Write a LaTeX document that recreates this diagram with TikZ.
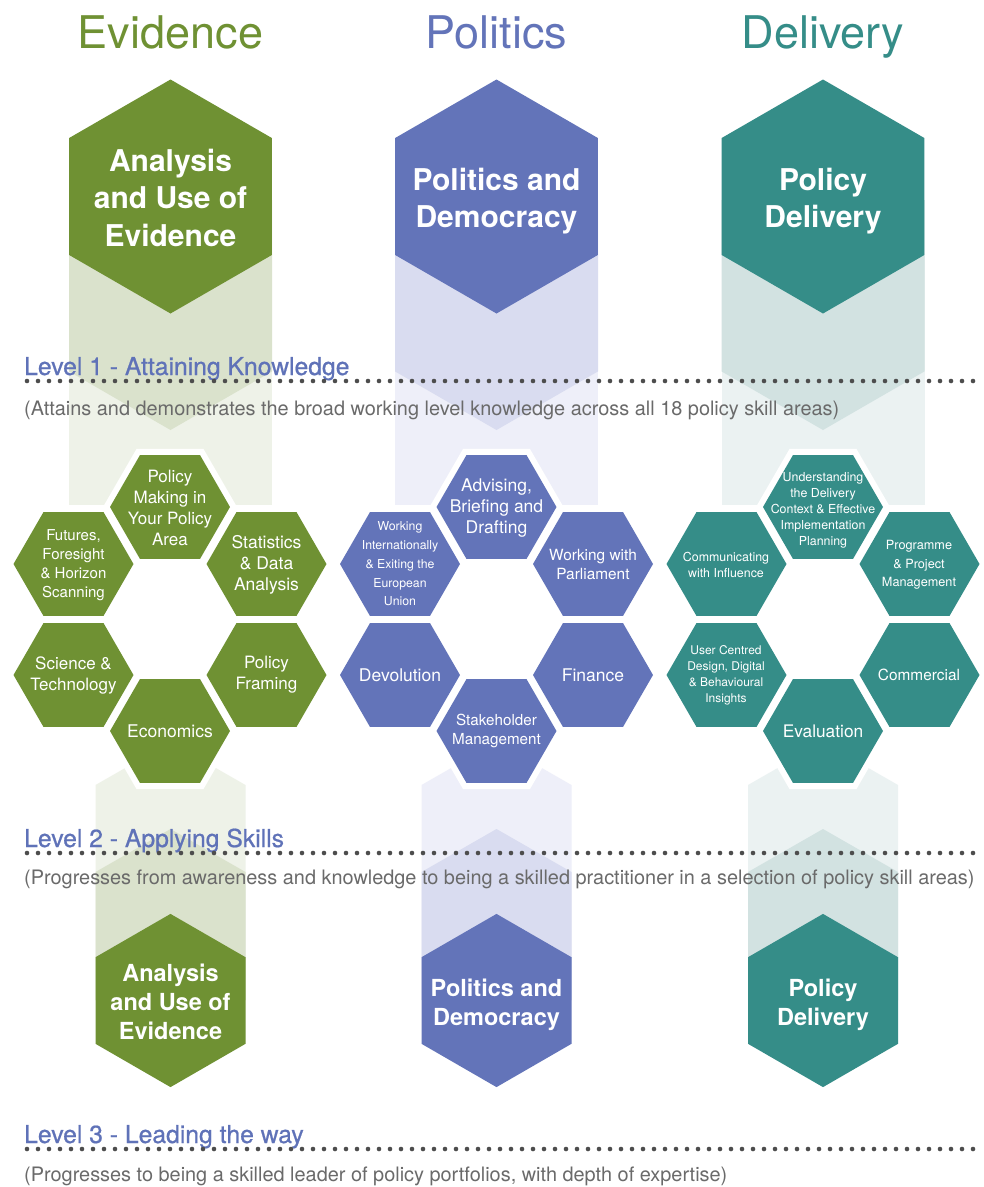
\documentclass[tikz,border=0pt]{standalone}
\usepackage{fontspec}
\setmainfont{TeX Gyre Heros}
\newfontfamily\medheros[FakeBold=0.7]{TeX Gyre Heros}
\definecolor{evG}{HTML}{6F9133}
\definecolor{poB}{HTML}{6374B9}
\definecolor{deT}{HTML}{358D88}
\definecolor{evDk}{HTML}{DAE2CC}
\definecolor{evLt}{HTML}{EEF2E8}
\definecolor{poDk}{HTML}{D9DCF0}
\definecolor{poLt}{HTML}{EEEFF9}
\definecolor{deDk}{HTML}{D2E2E1}
\definecolor{deLt}{HTML}{EBF2F2}
\definecolor{lvlblue}{HTML}{5F72B8}
\definecolor{subgray}{HTML}{6A6A6A}
\definecolor{dotgray}{HTML}{4D4D4D}
\newcommand{\flathexagon}[4]{\fill[#4] (#1,#2) ++(0:#3) -- ++(120:#3) -- ++(180:#3) -- ++(240:#3) -- ++(300:#3) -- ++(0:#3) -- cycle;}
\newcommand{\pointyhexagon}[4]{\fill[#4] (#1,#2) ++(30:#3) -- ++(150:#3) -- ++(210:#3) -- ++(270:#3) -- ++(330:#3) -- ++(30:#3) -- cycle;}
\tikzset{
  title/.style={anchor=base, inner sep=0, font=\fontsize{45}{54}\selectfont},
  biglbl/.style={text=white, align=center, inner sep=0, font=\bfseries\fontsize{30}{37.5}\selectfont},
  smalllbl/.style={text=white, align=center, inner sep=0, font=\bfseries\fontsize{23.5}{29}\selectfont},
  cl/.style={text=white, align=center, inner sep=0},
  lvl/.style={anchor=base west, inner sep=0, text=lvlblue, font=\medheros\fontsize{24.7}{30}\selectfont},
  sub/.style={anchor=base west, inner sep=0, text=subgray, font=\fontsize{19.9}{24}\selectfont},
  dotline/.style={draw=dotgray, line width=4.6pt, line cap=round, dash pattern=on 0pt off 11pt},
}
\begin{document}
\begin{tikzpicture}[x=1pt,y=-1pt]
\useasboundingbox[fill=white] (0,0) rectangle (984,1187);

% pale columns
\foreach \cx/\lt/\dk in {170.5/evLt/evDk, 496.5/poLt/poDk, 823/deLt/deDk} {
  \fill[\lt] (\cx-101.5,256) rectangle (\cx+101.5,505);
  \fill[\dk] (\cx-101.5,200) -- (\cx+101.5,200) -- (\cx+101.5,371.4) -- (\cx,430) -- (\cx-101.5,371.4) -- cycle;
  \fill[\lt] (\cx-75,785) -- (\cx,742) -- (\cx+75,785) -- (\cx+75,1000) -- (\cx-75,1000) -- cycle;
  \fill[\dk] (\cx-75,872) -- (\cx,829) -- (\cx+75,872) -- (\cx+75,1000) -- (\cx-75,1000) -- cycle;
}

% big hexagons
\pointyhexagon{170.5}{196.5}{117}{evG}
\pointyhexagon{496.5}{196.5}{117}{poB}
\pointyhexagon{823}{196.5}{117}{deT}
\pointyhexagon{170.5}{1000.5}{86.6}{evG}
\pointyhexagon{496.5}{1000.5}{86.6}{poB}
\pointyhexagon{823}{1000.5}{86.6}{deT}

% clusters
\foreach \cx/\col in {170/evG, 496.5/poB, 823/deT} {
  \flathexagon{\cx}{507}{67}{white}
  \flathexagon{\cx}{731}{67}{white}
  \flathexagon{\cx}{507}{60}{\col}
  \flathexagon{\cx-96.5}{564}{60}{\col}
  \flathexagon{\cx+96.5}{564}{60}{\col}
  \flathexagon{\cx-96.5}{675}{60}{\col}
  \flathexagon{\cx+96.5}{675}{60}{\col}
  \flathexagon{\cx}{731}{60}{\col}
}

% titles
\node[title, text=evG] (tev) at (170.5,48) {Evidence};
\node[title, text=poB] (tpo) at (496.5,48) {Politics};
\node[title, text=deT] (tde) at (823,48) {Delivery};

% big labels
\node[biglbl] (bev) at (170.5,197.5) {Analysis\\and Use of\\Evidence};
\node[biglbl] (bpo) at (496.5,201) {Politics and\\Democracy};
\node[biglbl] (bde) at (823,201) {Policy\\Delivery};
\node[smalllbl] (sev) at (170.5,1002) {Analysis\\and Use of\\Evidence};
\node[smalllbl] (spo) at (496.5,1005) {Politics and\\Democracy};
\node[smalllbl] (sde) at (823,1005) {Policy\\Delivery};

% evidence cluster labels
\node[cl, font=\fontsize{17}{21}\selectfont] (e1) at (170,508) {Policy\\Making in\\Your Policy\\Area};
\node[cl, font=\fontsize{15}{19}\selectfont] (e2) at (73.5,565) {Futures,\\Foresight\\\& Horizon\\Scanning};
\node[cl, font=\fontsize{17.5}{21}\selectfont] (e3) at (266.5,565) {Statistics\\\& Data\\Analysis};
\node[cl, font=\fontsize{17}{21}\selectfont] (e4) at (73.5,675) {Science \&\\Technology};
\node[cl, font=\fontsize{17}{21}\selectfont] (e5) at (266.5,675) {Policy\\Framing};
\node[cl, font=\fontsize{17.5}{21}\selectfont] (e6) at (170,731) {Economics};

% politics cluster labels
\node[cl, font=\fontsize{17.5}{21}\selectfont] (p1) at (496.5,508) {Advising,\\Briefing and\\Drafting};
\node[cl, font=\fontsize{12.3}{18.7}\selectfont] (p2) at (400,564) {Working\\Internationally\\\& Exiting the\\European\\Union};
\node[cl, font=\fontsize{15.4}{19}\selectfont] (p3) at (593,564) {Working with\\Parliament};
\node[cl, font=\fontsize{17.5}{21}\selectfont] (p4) at (400,675) {Devolution};
\node[cl, font=\fontsize{17.5}{21}\selectfont] (p5) at (593,675) {Finance};
\node[cl, font=\fontsize{15.2}{18.5}\selectfont] (p6) at (496.5,731) {Stakeholder\\Management};

% delivery cluster labels
\node[cl, font=\fontsize{12.4}{16}\selectfont] (d1) at (823,510) {Understanding\\the Delivery\\Context \& Effective\\Implementation\\Planning};
\node[cl, font=\fontsize{12.4}{16}\selectfont] (d2) at (726,565) {Communicating\\with Influence};
\node[cl, font=\fontsize{12.7}{18.5}\selectfont] (d3) at (919,565) {Programme\\\& Project\\Management};
\node[cl, font=\fontsize{12}{16}\selectfont] (d4) at (726,675.5) {User Centred\\Design, Digital\\\& Behavioural\\Insights};
\node[cl, font=\fontsize{15.4}{19}\selectfont] (d5) at (919,675) {Commercial};
\node[cl, font=\fontsize{17.3}{21}\selectfont] (d6) at (823,731.5) {Evaluation};

% levels
\node[lvl] (l1) at (24,375) {Level 1 - Attaining Knowledge};
\coordinate (l1a) at (27,381);
\coordinate (l1b) at (975,381);
\draw[dotline] (l1a) -- (l1b);
\node[sub] (s1) at (24,415) {(Attains and demonstrates the broad working level knowledge across all 18 policy skill areas)};

\node[lvl] (l2) at (24,847) {Level 2 - Applying Skills};
\coordinate (l2a) at (27,853);
\coordinate (l2b) at (975,853);
\draw[dotline] (l2a) -- (l2b);
\node[sub] (s2) at (24,884) {(Progresses from awareness and knowledge to being a skilled practitioner in a selection of policy skill areas)};

\node[lvl] (l3) at (24,1143) {Level 3 - Leading the way};
\coordinate (l3a) at (27,1149);
\coordinate (l3b) at (975,1149);
\draw[dotline] (l3a) -- (l3b);
\node[sub] (s3) at (24,1181) {(Progresses to being a skilled leader of policy portfolios, with depth of expertise)};
\end{tikzpicture}
\end{document}
